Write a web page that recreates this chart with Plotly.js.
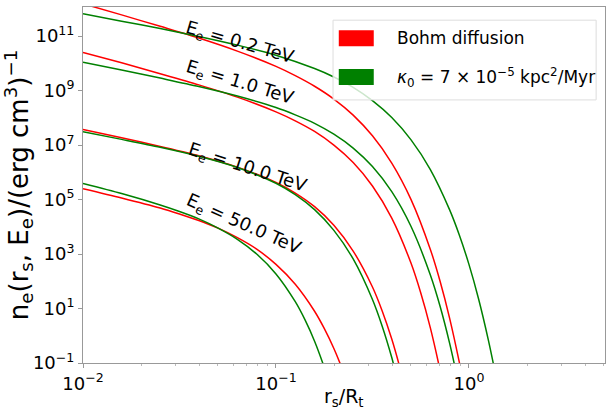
<!DOCTYPE html>
<html><head><meta charset="utf-8">
<script src="https://cdn.plot.ly/plotly-3.0.1.min.js"></script>
<style>html,body{margin:0;padding:0;background:#fff}#chart{width:612px;height:420px}</style>
</head><body><div id="chart"></div>
<script>
// Energies of the curves (TeV)
const energyLabels = ['0.2', '1.0', '10.0', '50.0'];

// Values, stored as log10(x) and log10(y).
// Bohm diffusion (red)
const bohm02LogX = [-2, -1.8, -1.6, -1.4, -1.2, -1.0, -0.9, -0.8, -0.7, -0.6, -0.5, -0.4, -0.3, -0.2, -0.15, -0.1, -0.05, -0.04];
const bohm02LogY = [12.19, 11.78, 11.36, 10.93, 10.45, 9.89, 9.55, 9.16, 8.69, 8.10, 7.34, 6.34, 5.00, 3.17, 2.01, 0.64, -0.97, -1.33];
const bohm10LogX = [-2, -1.8, -1.6, -1.4, -1.2, -1.0, -0.9, -0.8, -0.7, -0.6, -0.5, -0.4, -0.3, -0.25, -0.2, -0.15, -0.13];
const bohm10LogY = [10.40, 10.02, 9.62, 9.21, 8.76, 8.22, 7.89, 7.50, 7.00, 6.36, 5.50, 4.32, 2.66, 1.58, 0.29, -1.26, -1.97];
const bohm100LogX = [-2, -1.8, -1.6, -1.4, -1.2, -1.0, -0.9, -0.8, -0.7, -0.6, -0.5, -0.45, -0.4, -0.36, -0.34];
const bohm100LogY = [7.57, 7.27, 6.95, 6.61, 6.19, 5.63, 5.24, 4.74, 4.06, 3.11, 1.79, 0.92, -0.12, -1.11, -1.66];
const bohm500LogX = [-2, -1.8, -1.6, -1.5, -1.4, -1.3, -1.2, -1.1, -1.0, -0.9, -0.8, -0.75, -0.7, -0.65, -0.62];
const bohm500LogY = [5.40, 5.06, 4.69, 4.47, 4.23, 3.95, 3.60, 3.18, 2.62, 1.89, 0.90, 0.27, -0.47, -1.34, -1.94];

// kappa0 = 7e-5 kpc^2/Myr (green)
const kap02LogX = [-2, -1.8, -1.6, -1.4, -1.2, -1.0, -0.8, -0.7, -0.6, -0.5, -0.4, -0.3, -0.2, -0.1, -0.05, 0, 0.05, 0.1, 0.13, 0.15];
const kap02LogY = [11.82, 11.55, 11.28, 10.99, 10.67, 10.30, 9.81, 9.50, 9.12, 8.63, 8.01, 7.19, 6.10, 4.62, 3.70, 2.62, 1.35, -0.14, -1.15, -1.89];
const kap10LogX = [-2, -1.8, -1.6, -1.4, -1.2, -1.0, -0.9, -0.8, -0.7, -0.6, -0.5, -0.4, -0.3, -0.2, -0.15, -0.1, -0.07, -0.05];
const kap10LogY = [10.04, 9.76, 9.46, 9.15, 8.80, 8.38, 8.11, 7.80, 7.40, 6.89, 6.21, 5.29, 4.01, 2.23, 1.09, -0.28, -1.23, -1.92];
const kap100LogX = [-2, -1.8, -1.6, -1.4, -1.2, -1.0, -0.9, -0.8, -0.7, -0.6, -0.5, -0.45, -0.4, -0.38, -0.36];
const kap100LogY = [7.49, 7.21, 6.92, 6.59, 6.18, 5.60, 5.18, 4.63, 3.87, 2.82, 1.33, 0.36, -0.80, -1.34, -1.90];
const kap500LogX = [-2, -1.8, -1.6, -1.5, -1.4, -1.3, -1.2, -1.1, -1.0, -0.9, -0.85, -0.8, -0.75, -0.72];
const kap500LogY = [5.59, 5.22, 4.80, 4.56, 4.29, 3.95, 3.54, 3.00, 2.27, 1.25, 0.59, -0.20, -1.16, -1.83];

// Tick labels
const xTickVals = [0.01, 0.1, 1];
const xTickText = ['10<sup>−2</sup>', '10<sup>−1</sup>', '10<sup>0</sup>'];
const yTickVals = [0.1, 10, 1e3, 1e5, 1e7, 1e9, 1e11];
const yTickText = ['10<sup>−1</sup>', '10<sup>1</sup>', '10<sup>3</sup>', '10<sup>5</sup>', '10<sup>7</sup>', '10<sup>9</sup>', '10<sup>11</sup>'];

const RED = '#ff0000', GREEN = '#008000';
const FONT = 'DejaVu Sans, Verdana, sans-serif';
const pow10 = a => a.map(v => Math.pow(10, v));

function line(lx, ly, color) {
  return {x: pow10(lx), y: pow10(ly), type: 'scatter', mode: 'lines', showlegend: false, hoverinfo: 'skip',
          line: {color: color, width: 1.5, shape: 'spline', smoothing: 0.8}};
}
const traces = [
  line(bohm02LogX, bohm02LogY, RED), line(kap02LogX, kap02LogY, GREEN),
  line(bohm10LogX, bohm10LogY, RED), line(kap10LogX, kap10LogY, GREEN),
  line(bohm100LogX, bohm100LogY, RED), line(kap100LogX, kap100LogY, GREEN),
  line(bohm500LogX, bohm500LogY, RED), line(kap500LogX, kap500LogY, GREEN)
];

// label placement (log10 coordinates) and angle
const labelPos = [
  {x: -1.187, y: 10.76, a: 16},
  {x: -1.187, y: 9.29, a: 17},
  {x: -1.150, y: 6.17, a: 18},
  {x: -1.166, y: 4.07, a: 24}
];
const annotations = energyLabels.map((e, i) => ({
  x: labelPos[i].x, y: labelPos[i].y, xref: 'x', yref: 'y', showarrow: false,
  text: 'E<sub>e</sub> = ' + e + ' TeV', textangle: labelPos[i].a,
  font: {family: FONT, size: 18, color: '#000'}, xanchor: 'center', yanchor: 'middle'
}));
annotations.push(
  {x: 0.598, y: 0.913, xref: 'paper', yref: 'paper', showarrow: false, xanchor: 'left', yanchor: 'middle',
   text: 'Bohm diffusion', font: {family: FONT, size: 17, color: '#000'}},
  {x: 0.598, y: 0.803, xref: 'paper', yref: 'paper', showarrow: false, xanchor: 'left', yanchor: 'middle',
   text: '<i>κ</i><sub>0</sub> = 7 × 10<sup>−5</sup> kpc<sup>2</sup>/Myr', font: {family: FONT, size: 17, color: '#000'}},
  // x-axis title
  {x: 0.5, y: -0.097, xref: 'paper', yref: 'paper', showarrow: false, xanchor: 'center', yanchor: 'middle',
   text: 'r<sub>s</sub>/R<sub>t</sub>', font: {family: FONT, size: 19, color: '#000'}}
);

const shapes = [
  {type: 'rect', xref: 'paper', yref: 'paper', x0: 0.479, x1: 0.983, y0: 0.739, y1: 0.963,
   line: {color: '#dddddd', width: 1}, fillcolor: 'rgba(255,255,255,0.8)', layer: 'above'},
  {type: 'rect', xref: 'paper', yref: 'paper', x0: 0.490, x1: 0.557, y0: 0.890, y1: 0.935,
   line: {width: 0}, fillcolor: RED, layer: 'above'},
  {type: 'rect', xref: 'paper', yref: 'paper', x0: 0.490, x1: 0.557, y0: 0.781, y1: 0.826,
   line: {width: 0}, fillcolor: GREEN, layer: 'above'}
];

const layout = {
  width: 612, height: 420,
  margin: {l: 83, r: 7, t: 7, b: 57},
  paper_bgcolor: '#fff', plot_bgcolor: '#fff',
  showlegend: false,
  font: {family: FONT, color: '#000'},
  xaxis: {
    type: 'log', range: [-2, 0.705], showgrid: false, zeroline: false,
    showline: true, mirror: true, linecolor: '#999', linewidth: 1,
    ticks: 'outside', ticklen: 4, tickcolor: '#999',
    tickmode: 'array', tickvals: xTickVals, ticktext: xTickText,
    tickfont: {family: FONT, size: 18, color: '#000'},
    minor: {ticks: 'outside', ticklen: 2, tickcolor: '#bbb', dtick: 'D1', showgrid: false}
  },
  yaxis: {
    type: 'log', range: [-1, 12.07], showgrid: false, zeroline: false,
    showline: true, mirror: true, linecolor: '#999', linewidth: 1,
    ticks: 'outside', ticklen: 4, tickcolor: '#999',
    tickmode: 'array', tickvals: yTickVals, ticktext: yTickText,
    tickfont: {family: FONT, size: 18, color: '#000'},
    title: {text: 'n<sub>e</sub>(r<sub>s</sub>, E<sub>e</sub>)/(erg cm<sup>3</sup>)<sup>−1</sup>',
            font: {family: FONT, size: 26, color: '#000'}, standoff: 2}
  },
  annotations: annotations,
  shapes: shapes
};

Plotly.newPlot('chart', traces, layout, {displayModeBar: false, staticPlot: true});
</script>
</body></html>
